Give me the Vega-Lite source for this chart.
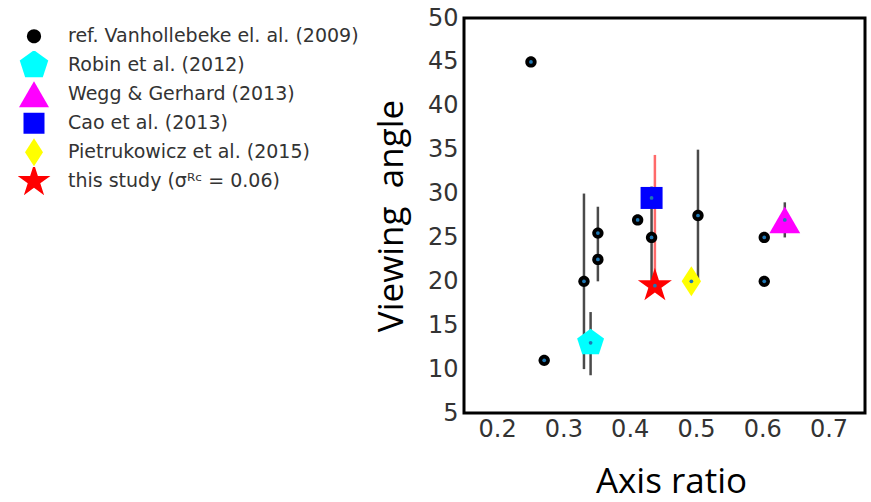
{
  "$schema": "https://vega.github.io/schema/vega-lite/v6.json",
  "width": 401,
  "height": 395,
  "autosize": {"type": "none"},
  "padding": {"left": 464, "top": 18, "right": 6, "bottom": 89},
  "background": "white",
  "datasets": {
    "pts": [
      {"ratio": 0.251, "angle": 45, "series": "ref. Vanhollebeke el. al. (2009)"},
      {"ratio": 0.271, "angle": 11, "series": "ref. Vanhollebeke el. al. (2009)"},
      {"ratio": 0.331, "angle": 20, "series": "ref. Vanhollebeke el. al. (2009)"},
      {"ratio": 0.352, "angle": 25.5, "series": "ref. Vanhollebeke el. al. (2009)"},
      {"ratio": 0.352, "angle": 22.5, "series": "ref. Vanhollebeke el. al. (2009)"},
      {"ratio": 0.412, "angle": 27, "series": "ref. Vanhollebeke el. al. (2009)"},
      {"ratio": 0.433, "angle": 25, "series": "ref. Vanhollebeke el. al. (2009)"},
      {"ratio": 0.503, "angle": 27.5, "series": "ref. Vanhollebeke el. al. (2009)"},
      {"ratio": 0.603, "angle": 25, "series": "ref. Vanhollebeke el. al. (2009)"},
      {"ratio": 0.603, "angle": 20, "series": "ref. Vanhollebeke el. al. (2009)"},
      {"ratio": 0.341, "angle": 13, "series": "Robin et al. (2012)"},
      {"ratio": 0.634, "angle": 27, "series": "Wegg & Gerhard (2013)"},
      {"ratio": 0.433, "angle": 29.5, "series": "Cao et al. (2013)"},
      {"ratio": 0.493, "angle": 20, "series": "Pietrukowicz et al. (2015)"},
      {"ratio": 0.438, "angle": 19.5, "series": "this study (σᴿᶜ = 0.06)"}
    ],
    "errs": [
      {"ratio": 0.331, "lo": 10, "hi": 30, "series": "ref. Vanhollebeke el. al. (2009)"},
      {"ratio": 0.352, "lo": 20, "hi": 28.5, "series": "ref. Vanhollebeke el. al. (2009)"},
      {"ratio": 0.433, "lo": 19.5, "hi": 30.8, "series": "ref. Vanhollebeke el. al. (2009)"},
      {"ratio": 0.503, "lo": 20, "hi": 35, "series": "ref. Vanhollebeke el. al. (2009)"},
      {"ratio": 0.341, "lo": 9.3, "hi": 16.5, "series": "Robin et al. (2012)"},
      {"ratio": 0.634, "lo": 25, "hi": 29, "series": "Wegg & Gerhard (2013)"},
      {"ratio": 0.438, "lo": 19.5, "hi": 34.4, "series": "this study (σᴿᶜ = 0.06)"}
    ]
  },
  "config": {
    "view": {"stroke": "black", "strokeWidth": 3},
    "axis": {
      "labelFont": "DejaVu Sans",
      "labelFontSize": 24,
      "labelColor": "#333333",
      "titleFont": "Open Sans",
      "titleFontSize": 35,
      "titleFontWeight": "normal",
      "titleColor": "black",
      "grid": false,
      "domain": false,
      "ticks": false
    },
    "legend": {
      "labelFont": "DejaVu Sans",
      "labelFontSize": 19,
      "labelColor": "#333333",
      "labelLimit": 400,
      "symbolSize": 900,
      "gridAlign": "all"
    }
  },
  "layer": [
    {
      "data": {"name": "errs"},
      "mark": {"type": "rule", "strokeWidth": 2.5},
      "encoding": {
        "x": {"field": "ratio", "type": "quantitative"},
        "y": {"field": "lo", "type": "quantitative"},
        "y2": {"field": "hi"},
        "stroke": {
          "field": "series",
          "type": "nominal",
          "legend": null,
          "scale": {
            "domain": ["ref. Vanhollebeke el. al. (2009)", "Robin et al. (2012)", "Wegg & Gerhard (2013)", "this study (σᴿᶜ = 0.06)"],
            "range": ["#4a4a4a", "#4a4a4a", "#4a4a4a", "#ff6a6a"]
          }
        }
      }
    },
    {
      "data": {"name": "pts"},
      "mark": {"type": "point", "filled": true, "opacity": 1},
      "encoding": {
        "x": {
          "field": "ratio", "type": "quantitative",
          "scale": {"domain": [0.15, 0.755], "nice": false, "zero": false},
          "axis": {"values": [0.2, 0.3, 0.4, 0.5, 0.6, 0.7], "format": ".1f", "title": "Axis ratio", "labelPadding": 4, "titlePadding": 23, "titleX": 207}
        },
        "y": {
          "field": "angle", "type": "quantitative",
          "scale": {"domain": [5, 50], "nice": false, "zero": false},
          "axis": {"values": [5, 10, 15, 20, 25, 30, 35, 40, 45, 50], "title": "Viewing\u00a0 angle", "labelPadding": 6, "titlePadding": 18}
        },
        "fill": {
          "field": "series", "type": "nominal",
          "scale": {
            "domain": ["ref. Vanhollebeke el. al. (2009)", "Robin et al. (2012)", "Wegg & Gerhard (2013)", "Cao et al. (2013)", "Pietrukowicz et al. (2015)", "this study (σᴿᶜ = 0.06)"],
            "range": ["#000000", "#00ffff", "#ff00ff", "#0000ff", "#ffff00", "#ff0000"]
          },
          "legend": {
            "orient": "none", "legendX": -446, "legendY": 4, "title": null,
            "rowPadding": 0, "labelOffset": 18, "clipHeight": 28.4
          }
        },
        "shape": {
          "field": "series", "type": "nominal",
          "scale": {
            "domain": ["ref. Vanhollebeke el. al. (2009)", "Robin et al. (2012)", "Wegg & Gerhard (2013)", "Cao et al. (2013)", "Pietrukowicz et al. (2015)", "this study (σᴿᶜ = 0.06)"],
            "range": [
              "M-0.47,0A0.47,0.47 0 1,0 0.47,0A0.47,0.47 0 1,0 -0.47,0Z",
              "M0,-1L0.951,-0.309L0.588,0.809L-0.588,0.809L-0.951,-0.309Z",
              "triangle-up",
              "M-0.7,-0.7L0.7,-0.7L0.7,0.7L-0.7,0.7Z",
              "M0,-0.93L0.6,0L0,0.93L-0.6,0Z",
              "M0,-1.15L0.259,-0.355L1.094,-0.355L0.418,0.136L0.676,0.93L0,0.439L-0.676,0.93L-0.418,0.136L-1.094,-0.355L-0.259,-0.355Z"
            ]
          },
          "legend": {
            "orient": "none", "legendX": -446, "legendY": 4, "title": null,
            "rowPadding": 0, "labelOffset": 18, "clipHeight": 28.4
          }
        },
        "size": {
          "condition": [
            {"test": "datum.series === 'Robin et al. (2012)'", "value": 800},
            {"test": "datum.series === 'Wegg & Gerhard (2013)'", "value": 950},
            {"test": "datum.series === 'Cao et al. (2013)'", "value": 988},
            {"test": "datum.series === 'Pietrukowicz et al. (2015)'", "value": 1040},
            {"test": "datum.series === 'this study (σᴿᶜ = 0.06)'", "value": 970}
          ],
          "value": 580
        }
      }
    },
    {
      "data": {"name": "pts"},
      "mark": {"type": "point", "filled": true, "opacity": 1, "size": 14, "color": "#1f77b4"},
      "encoding": {
        "x": {"field": "ratio", "type": "quantitative"},
        "y": {"field": "angle", "type": "quantitative"}
      }
    }
  ]
}
